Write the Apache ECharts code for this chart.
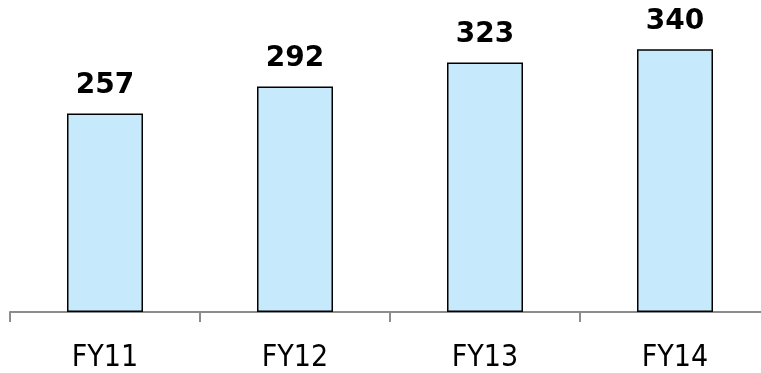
<!DOCTYPE html>
<html>
<head>
  <meta charset="UTF-8">
  <title>FY bar chart</title>
  <script src="https://cdn.jsdelivr.net/npm/echarts/dist/echarts.min.js"></script>
  <style>
    html, body { margin: 0; padding: 0; background: #fff; overflow: hidden; }
    #main { width: 770px; height: 373px; }
  </style>
</head>
<body>
  <div id="main"></div>
  <script>
    const categories = ['FY11', 'FY12', 'FY13', 'FY14'];
    const values = [257, 292, 323, 340];

    const chart = echarts.init(document.getElementById('main'));
    const option = {
      animation: false,
      grid: { left: 10, right: 0, top: 3, bottom: 59 },
      xAxis: {
        type: 'category',
        data: categories,
        axisLine: { lineStyle: { color: '#8c8c8c', width: 2 } },
        axisTick: { show: true, length: 10, lineStyle: { color: '#8c8c8c', width: 2 } },
        axisLabel: {
          color: '#000',
          fontSize: 30,
          fontFamily: 'DejaVu Sans Condensed',
          margin: 31
        }
      },
      yAxis: {
        type: 'value',
        min: 0,
        max: 400,
        show: false,
        splitLine: { show: false }
      },
      series: [{
        type: 'bar',
        data: values,
        barWidth: 76,
        itemStyle: { color: '#c6e9fc', borderColor: '#000', borderWidth: 1.5 },
        label: {
          show: true,
          position: 'top',
          distance: 14,
          color: '#000',
          fontSize: 28,
          fontWeight: 'bold',
          fontFamily: 'DejaVu Sans'
        }
      }]
    };
    chart.setOption(option);
    window.addEventListener('resize', chart.resize);
  </script>
</body>
</html>
